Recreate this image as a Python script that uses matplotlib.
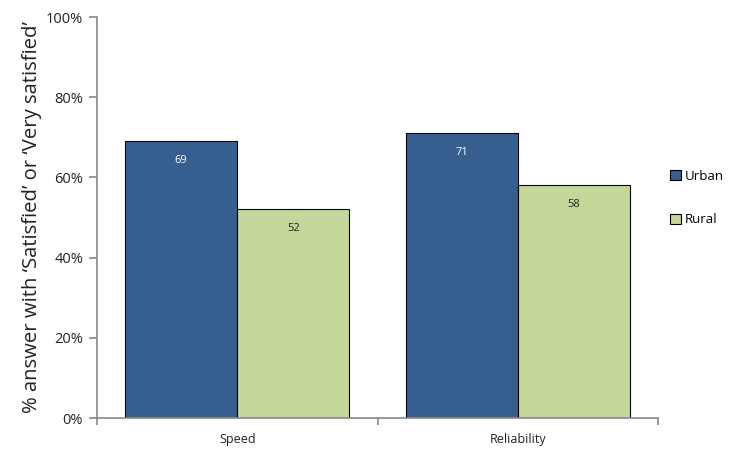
import matplotlib
matplotlib.use("Agg")
import matplotlib.pyplot as plt
import numpy as np
from matplotlib.patches import Patch

plt.rcParams['font.family'] = ['Open Sans', 'DejaVu Sans']

categories = ["Speed", "Reliability"]
series_names = ["Urban", "Rural"]
urban = [69, 71]
rural = [52, 58]
colors = ["#365f8f", "#c4d79b"]
label_colors = ["white", "#222222"]

fig = plt.figure(figsize=(7.3, 4.5), dpi=100)
ax = fig.add_axes([0.1329, 0.0711, 0.9014 - 0.1329, 0.9622 - 0.0711])

x = np.arange(len(categories))
w = 0.4
values = [urban, rural]
for i, (vals, name) in enumerate(zip(values, series_names)):
    pos = x - w / 2 + i * w
    bars = ax.bar(pos, vals, width=w, color=colors[i], edgecolor="black",
                  linewidth=0.8, label=name)
    for b, v in zip(bars, vals):
        ax.text(b.get_x() + b.get_width() / 2, v - 4.7, f"{v}", ha="center",
                va="center", fontsize=8, color=label_colors[i])

ax.set_xlim(-0.5, len(categories) - 0.5)
ax.set_ylim(0, 100)
ax.set_yticks(np.arange(0, 101, 20))
ax.set_yticklabels([f"{t}%" for t in range(0, 101, 20)], fontsize=10.5, color="#222222")
ax.set_xticks([-0.5, 0.5, 1.5])
ax.set_xticklabels([])
ax.set_xticks(x, minor=True)
ax.set_xticklabels(categories, minor=True, fontsize=9, color="#222222")
ax.tick_params(axis="x", which="minor", length=0, pad=11)
ax.tick_params(axis="x", which="major", length=5, direction="out", color="#888888", width=1.2)
ax.tick_params(axis="y", length=6, direction="out", color="#888888", width=1.2, pad=4)
for s in ["top", "right"]:
    ax.spines[s].set_visible(False)
for s in ["left", "bottom"]:
    ax.spines[s].set_color("#888888")
    ax.spines[s].set_linewidth(1.2)

ax.set_ylabel("% answer with \u2018Satisfied\u2019 or \u2018Very satisfied\u2019", fontsize=14.6,
              color="#222222", labelpad=3)

handles = [Patch(facecolor=colors[i], edgecolor="black", linewidth=0.8, label=series_names[i])
           for i in range(2)]
fig.legend(handles=handles, loc="center left", bbox_to_anchor=(0.918, 0.56), frameon=False,
           fontsize=9.5, handlelength=0.8, handleheight=0.8, handletextpad=0.3, labelspacing=2.3,
           borderpad=0, borderaxespad=0)

fig.savefig("out.png", dpi=100)
